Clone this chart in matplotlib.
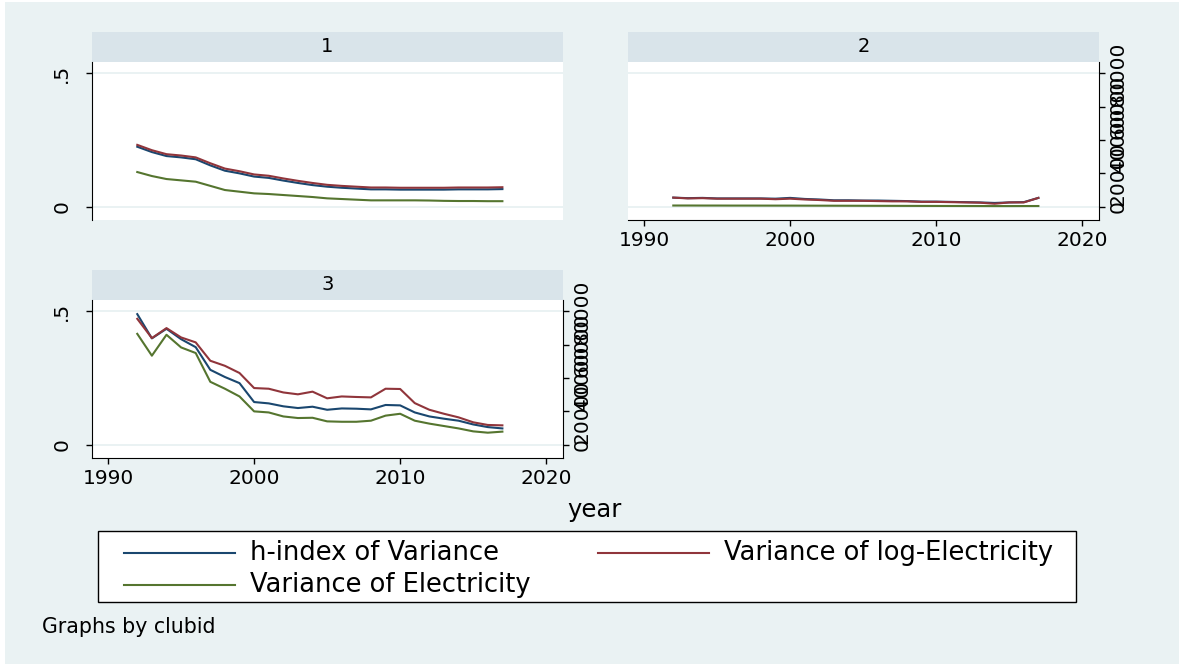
import matplotlib.pyplot as plt
from matplotlib.patches import Rectangle

years = list(range(1992, 2018))

# club 1
hidx_1 = [0.225, 0.205, 0.190, 0.185, 0.178, 0.155, 0.135, 0.125, 0.113, 0.108,
          0.098, 0.089, 0.081, 0.075, 0.071, 0.068, 0.065, 0.065, 0.064, 0.064,
          0.064, 0.064, 0.065, 0.065, 0.065, 0.066]
logv_1 = [0.232, 0.212, 0.197, 0.192, 0.185, 0.163, 0.143, 0.133, 0.121, 0.116,
          0.106, 0.097, 0.089, 0.082, 0.078, 0.075, 0.072, 0.072, 0.071, 0.071,
          0.071, 0.071, 0.072, 0.072, 0.072, 0.073]
elec_1 = [20800, 18400, 16600, 15800, 15000, 12500, 10000, 9000, 8000, 7600,
          7000, 6400, 5800, 5000, 4600, 4200, 3800, 3800, 3800, 3800,
          3700, 3500, 3400, 3400, 3300, 3300]

# club 2
hidx_2 = [0.034, 0.032, 0.033, 0.031, 0.031, 0.031, 0.031, 0.030, 0.033, 0.029,
          0.027, 0.024, 0.024, 0.023, 0.023, 0.022, 0.021, 0.019, 0.019, 0.018,
          0.017, 0.016, 0.014, 0.016, 0.017, 0.033]
logv_2 = [0.034, 0.031, 0.032, 0.030, 0.030, 0.030, 0.030, 0.028, 0.030, 0.027,
          0.025, 0.022, 0.022, 0.022, 0.021, 0.020, 0.020, 0.018, 0.018, 0.017,
          0.016, 0.015, 0.011, 0.016, 0.016, 0.033]
elec_2 = [700, 700, 680, 680, 660, 660, 650, 640, 640, 620,
          600, 580, 560, 540, 520, 500, 480, 460, 440, 420,
          400, 380, 360, 360, 380, 400]

# club 3
hidx_3 = [0.490, 0.399, 0.435, 0.396, 0.366, 0.281, 0.254, 0.231, 0.160, 0.155,
          0.144, 0.1375, 0.1425, 0.131, 0.136, 0.135, 0.1325, 0.149, 0.1475, 0.121,
          0.106, 0.0975, 0.090, 0.076, 0.066, 0.061]
logv_3 = [0.4725, 0.400, 0.4375, 0.4025, 0.384, 0.315, 0.296, 0.269, 0.2125, 0.210,
          0.196, 0.189, 0.199, 0.174, 0.181, 0.179, 0.1775, 0.210, 0.209, 0.156,
          0.131, 0.116, 0.1025, 0.084, 0.074, 0.0725]
elec_3 = [66560, 53440, 66000, 58400, 55040, 37760, 33600, 28960, 20000, 19360,
          16960, 16000, 16160, 14000, 13760, 13760, 14400, 17440, 18560, 14400,
          12640, 11200, 9760, 8000, 7200, 7840]

labels = ["h-index of Variance", "Variance of log-Electricity", "Variance of Electricity"]
NAVY, MAROON, GREEN = "#1A476F", "#90353B", "#55752F"
BG, STRIP = "#EAF2F3", "#D9E4EA"

W, H = 1179, 664
fig = plt.figure(figsize=(W / 100, H / 100), dpi=100)
fig.patch.set_facecolor(BG)


def box(x0, y0, x1, y1):
    return [x0 / W, 1 - y1 / H, (x1 - x0) / W, (y1 - y0) / H]


# full-figure layer in pixel coordinates for border, strips and legend
bg = fig.add_axes([0, 0, 1, 1])
bg.set_xlim(0, W)
bg.set_ylim(H, 0)
bg.axis("off")
# thin white margin along the top and left edges
bg.add_patch(Rectangle((0, 0), W, 2, color="white", lw=0))
bg.add_patch(Rectangle((0, 0), 5, H, color="white", lw=0))

XLIM = (1988.9, 2021.15)
YLIM = (-0.05, 0.543)
SCALE2 = 160000  # right axis units per left axis unit
TICK_FS = 14.5


def panel(rect, title, hidx, logv, elec, left, bottom, right):
    x0, y0, x1, y1 = rect
    bg.add_patch(Rectangle((x0, y0 - 30), x1 - x0, 30, color=STRIP, lw=0))
    bg.text((x0 + x1) / 2, y0 - 15, title, ha="center", va="center", fontsize=14)

    ax = fig.add_axes(box(*rect))
    ax.set_facecolor("white")
    ax.set_xlim(*XLIM)
    ax.set_ylim(*YLIM)
    for v in (0, 0.5):
        ax.axhline(v, color=BG, lw=1.4, zorder=0)
    ax.plot(years, hidx, color=NAVY, lw=1.5)
    ax.plot(years, logv, color=MAROON, lw=1.5)
    for s in ("top", "right"):
        ax.spines[s].set_visible(False)

    if left:
        ax.set_yticks([0, 0.5])
        ax.set_yticklabels(["0", ".5"], rotation=90, va="center")
        ax.tick_params(axis="y", length=4, width=1, pad=11, labelsize=TICK_FS)
    else:
        ax.spines["left"].set_visible(False)
        ax.set_yticks([])

    if bottom:
        ax.set_xticks([1990, 2000, 2010, 2020])
        ax.tick_params(axis="x", length=4, width=1, pad=4, labelsize=TICK_FS)
    else:
        ax.spines["bottom"].set_visible(False)
        ax.set_xticks([])

    ax2 = ax.twinx()
    ax2.set_ylim(YLIM[0] * SCALE2, YLIM[1] * SCALE2)
    ax2.plot(years, elec, color=GREEN, lw=1.5)
    for s in ("top", "left", "bottom"):
        ax2.spines[s].set_visible(False)
    if right:
        ax2.set_yticks([0, 20000, 40000, 60000, 80000])
        ax2.set_yticklabels(["0", "20000", "40000", "60000", "80000"],
                            rotation=90, va="center")
        ax2.tick_params(axis="y", length=4, width=1, pad=3, labelsize=TICK_FS)
    else:
        ax2.spines["right"].set_visible(False)
        ax2.set_yticks([])


panel((92, 62, 563, 220), "1", hidx_1, logv_1, elec_1, True, False, False)
panel((628, 62, 1099, 220), "2", hidx_2, logv_2, elec_2, False, True, True)
panel((92, 300, 563, 458), "3", hidx_3, logv_3, elec_3, True, True, True)

bg.text(595, 510, "year", ha="center", va="center", fontsize=17.5)

# legend
bg.add_patch(Rectangle((98, 531), 978, 71, facecolor="white", edgecolor="black", lw=1))
entries = [(124, 553, NAVY, labels[0]), (598, 553, MAROON, labels[1]),
           (124, 585, GREEN, labels[2])]
for lx, ly, col, lab in entries:
    bg.plot([lx, lx + 111], [ly, ly], color=col, lw=1.5)
    bg.text(lx + 126, ly, lab, ha="left", va="center", fontsize=18.5)

bg.text(42, 627, "Graphs by clubid", ha="left", va="center", fontsize=14.8)

fig.savefig("out.png", dpi=100, facecolor=BG)
